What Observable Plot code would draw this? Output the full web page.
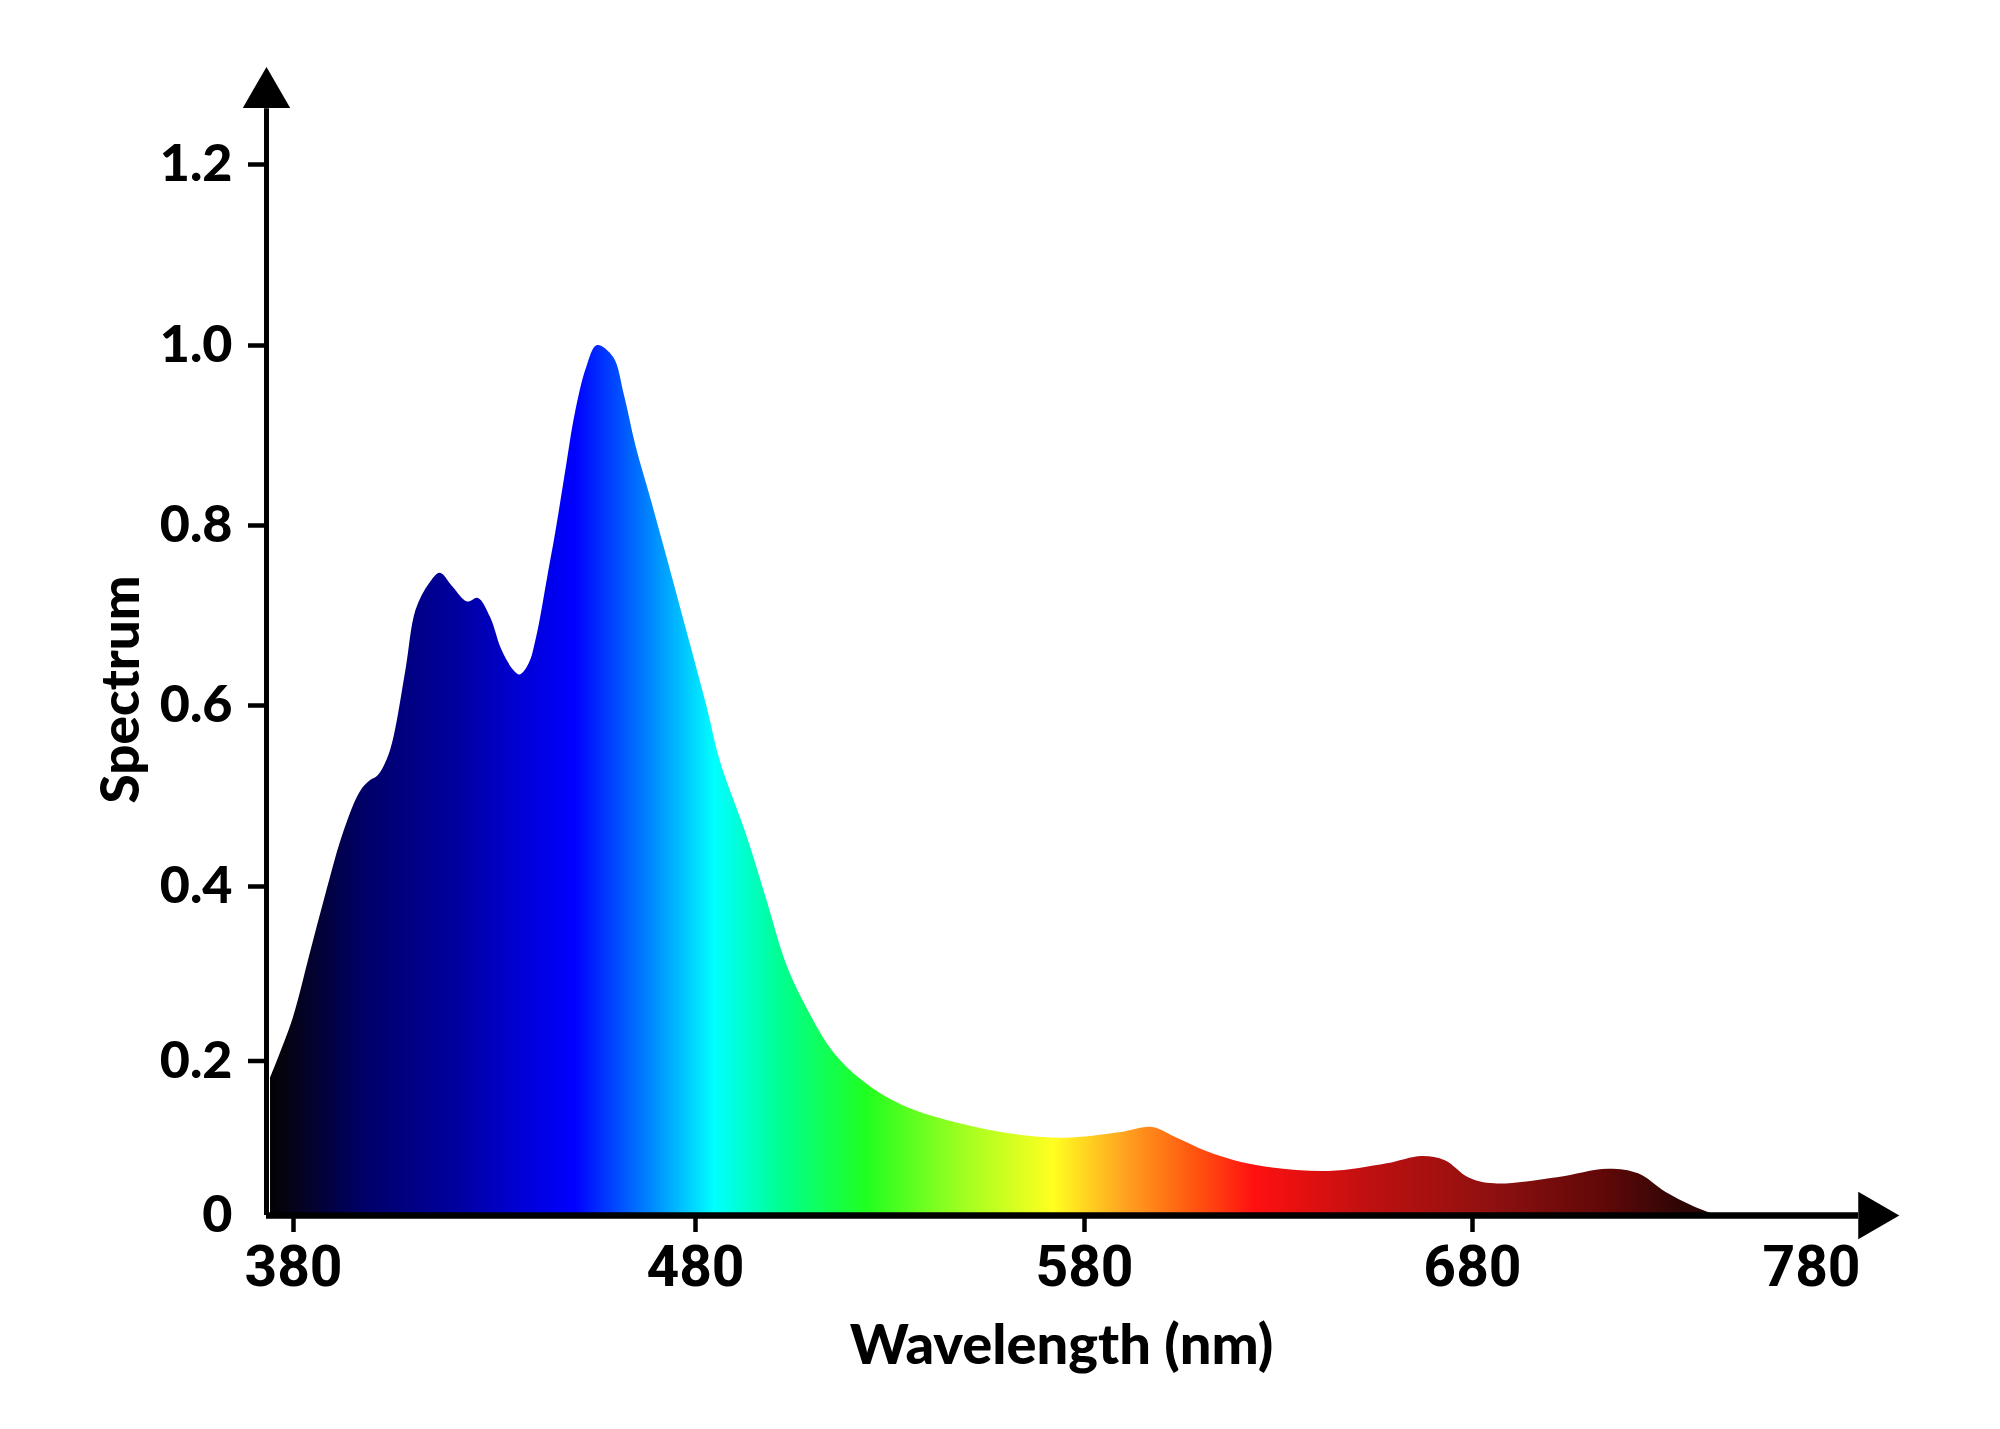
<!DOCTYPE html>
<html>
<head>
<meta charset="utf-8">
<script src="https://cdn.jsdelivr.net/npm/d3@7"></script>
<script src="https://cdn.jsdelivr.net/npm/@observablehq/plot@0.6"></script>
<style>
  html, body { margin: 0; padding: 0; background: #fff; overflow: hidden; }
  svg { display: block; }
</style>
</head>
<body>
<div id="chart"></div>
<script>
// ---- data ----
const wavelength = [374.3, 376, 380, 384, 388, 392.5, 396.7, 399.2, 401, 403.3, 405, 408, 410.5, 413.8, 416.5, 419.6, 423.3, 426, 429, 431.9, 434.8, 436.4, 438.6, 440.5, 443.3, 445.2, 448, 450, 452.9, 455.6, 459.6, 462.3, 465.2, 469, 473, 476.8, 483, 486.4, 493.2, 498.3, 503.4, 508.5, 515.3, 523, 533, 547, 562, 575, 589, 597.5, 603.5, 612, 624, 643, 658, 667, 673, 679, 686.5, 705, 720, 729, 737, 745, 752];
const spectrum = [0.178, 0.2, 0.25, 0.32, 0.39, 0.46, 0.505, 0.517, 0.522, 0.54, 0.565, 0.64, 0.706, 0.735, 0.747, 0.732, 0.715, 0.719, 0.698, 0.661, 0.639, 0.634, 0.646, 0.676, 0.744, 0.791, 0.868, 0.922, 0.975, 1.0, 0.987, 0.945, 0.888, 0.828, 0.763, 0.70, 0.598, 0.538, 0.456, 0.385, 0.311, 0.262, 0.211, 0.174, 0.143, 0.12, 0.105, 0.100, 0.107, 0.114, 0.101, 0.082, 0.065, 0.057, 0.067, 0.0765, 0.071, 0.049, 0.041, 0.049, 0.060, 0.054, 0.030, 0.012, 0];

const xTickValues = [380, 480, 580, 680];
const xLastTick = [780];
const yTickValues = [0.2, 0.4, 0.6, 0.8, 1.0, 1.2];
const yZeroTick = [0];

// spectral colour stops (wavelength in nm -> colour)
const colorStopsNm = [373, 378, 397, 421, 435, 450, 468, 485, 502, 524, 549, 572, 591, 606, 624, 653, 685, 719, 741, 755];
const colorStops = ["#000000", "#05030f", "#000066", "#0000a0", "#0000d0", "#0000ff", "#0080ff", "#00ffff", "#00ff90", "#20ff20", "#a0ff20", "#ffff20", "#ffa020", "#ff6010", "#ff1010", "#c01010", "#901010", "#600808", "#300505", "#200303"];

// ---- layout (piecewise scales as drawn in the illustration) ----
const axisStart = 373.3;   // wavelength at the y axis
const axisEnd = 794;       // end of the x axis line
const xDomain = [axisStart, 380, 480, 580, 680, 780, axisEnd];
const xRange = [266, 293, 695, 1084, 1472, 1811, 1858];
const yDomain = [0, 0.2, 0.4, 0.6, 0.8, 1.0, 1.2, 1.3];
const yRange = [1215, 1060.5, 886, 705, 525, 345, 164, 74];

const data = wavelength.map((w, i) => ({w, s: spectrum[i]}));

function spectrumGradient(index, scales) {
  const x = scales.x;
  const x0 = x(colorStopsNm[0]);
  const x1 = x(colorStopsNm[colorStopsNm.length - 1]);
  const defs = d3.create("svg:defs");
  const g = defs.append("linearGradient")
    .attr("id", "spectrumGradient")
    .attr("gradientUnits", "userSpaceOnUse")
    .attr("x1", x0).attr("x2", x1).attr("y1", 0).attr("y2", 0);
  colorStopsNm.forEach((w, i) => {
    g.append("stop").attr("offset", (x(w) - x0) / (x1 - x0)).attr("stop-color", colorStops[i]);
  });
  return defs.node();
}

const numFont = "Lato, 'Open Sans', sans-serif";
const narrowFont = "'Liberation Sans Narrow', 'Arial Narrow', 'Roboto', sans-serif";

const chart = Plot.plot({
  width: 2000,
  height: 1429,
  marginLeft: 266,
  marginRight: 144,
  marginTop: 163,
  marginBottom: 214,
  style: {background: "#fff", color: "#000", fontFamily: numFont},
  x: {type: "linear", domain: xDomain, range: xRange},
  y: {type: "linear", domain: yDomain, range: yRange},
  marks: [
    spectrumGradient,
    Plot.areaY(data, {x: "w", y: "s", fill: "url(#spectrumGradient)", curve: "catmull-rom"}),
    Plot.ruleX([axisStart], {y1: 0, y2: 1.262, stroke: "#000", strokeWidth: 5}),
    Plot.ruleY([0], {x1: axisStart, x2: axisEnd, stroke: "#000", strokeWidth: 6.5}),
    Plot.dot([{x: axisStart, y: 1.278}], {x: "x", y: "y", symbol: "triangle", r: 17.6, fill: "#000", stroke: "none"}),
    Plot.dot([{x: 798, y: 0}], {x: "x", y: "y", symbol: "triangle", r: 17.6, fill: "#000", stroke: "none", rotate: 90}),
    Plot.axisY({ticks: yTickValues, tickSize: 18, tickPadding: 16, strokeWidth: 4.5, tickFormat: d => d.toFixed(1),
      fontSize: 52, fontWeight: 900, fontFamily: numFont, label: null}),
    Plot.axisY({ticks: yZeroTick, tickSize: 0, tickPadding: 34, tickFormat: d => "0",
      fontSize: 52, fontWeight: 900, fontFamily: numFont, label: null}),
    Plot.axisX({ticks: xTickValues, tickSize: 17, tickPadding: 13, strokeWidth: 4.5, tickFormat: d => String(d),
      fontSize: 57, fontWeight: "bold", fontFamily: narrowFont, label: null}),
    Plot.axisX({ticks: xLastTick, tickSize: 0, tickPadding: 30, tickFormat: d => String(d),
      fontSize: 57, fontWeight: "bold", fontFamily: narrowFont, label: null}),
    Plot.text(["Wavelength (nm)"], {text: d => d, frameAnchor: "bottom", dy: 148, lineAnchor: "bottom",
      fontSize: 56, fontWeight: 900, fontFamily: numFont}),
    Plot.text(["Spectrum"], {text: d => d, frameAnchor: "left", dx: -144, rotate: -90, textAnchor: "middle",
      fontSize: 53, fontWeight: 900, fontFamily: numFont})
  ]
});

document.getElementById("chart").appendChild(chart);
</script>
</body>
</html>
